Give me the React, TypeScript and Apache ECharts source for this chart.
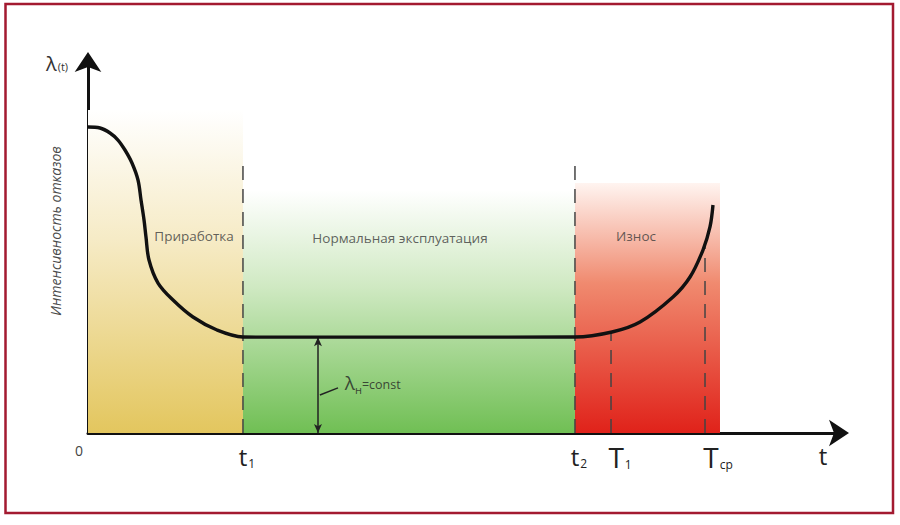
import React, { useEffect, useRef } from "react";
import * as echarts from "echarts";

// Bathtub curve (failure rate vs time), abstract units 0..100 on both axes
const curveT = [0, 1.59, 2.92, 3.98, 4.91, 5.84, 6.64, 7.04, 7.44, 7.7, 8.1, 9.3, 11.29, 13.94, 17.13, 20.58, 22.84, 40, 64.67, 69.59, 73.31, 77.69, 79.95, 81.67, 82.6, 83.0];
const curveLambda = [82.04, 81.77, 80.43, 78.55, 75.87, 72.39, 67.83, 62.47, 57.1, 52.55, 46.38, 40.21, 35.66, 31.1, 27.61, 25.74, 25.7, 25.7, 25.74, 27.08, 29.76, 36.46, 41.82, 49.06, 55.23, 61.13];

const zoneNames = ["Приработка", "Нормальная эксплуатация", "Износ"];
const zoneStart = [0, 20.58, 64.67];
const zoneEnd = [20.58, 64.67, 83.93];
const zoneTop = [86.6, 65.1, 67.0];
const zoneLabelT = [14.08, 41.43, 72.78];
const zoneLabelY = [52.8, 52.3, 52.8];

const dashT = [20.58, 64.67, 69.46, 81.94];
const dashTop = [73.2, 73.2, 27.0, 50.5];

const tickValues = [0, 20.58, 64.67, 69.46, 81.94, 97.61];
const tickMain = ["0", "t", "t", "T", "T", "t"];
const tickSub = ["", "1", "2", "1", "ср", ""];
const tickNudge = [-9, 4, 4, 9, 13, 0];

const lambdaConstT = 30.54;
const lambdaConst = 25.7;
const leaderFrom = [30.8, 10.2];
const leaderTo = [33.2, 12.1];
const lambdaLabel = [34.1, 13.4];

const FONT = "'Open Sans', 'Noto Sans', sans-serif";

const zoneColors = [
  ["#ffffff", "#f6ebc6", "#e3c65e"],
  ["#ffffff", "#cfe9c2", "#70bf54"],
  ["#fff4f0", "#f08a6f", "#e0221a"],
];

export default function App() {
  const ref = useRef<HTMLDivElement>(null);
  useEffect(() => {
    if (!ref.current) return;
    const chart = echarts.init(ref.current, null, { renderer: "svg" });

    const rich: any = {
      sub: { fontSize: 12, color: "#222", fontFamily: FONT, padding: [14, 0, 0, 1] },
    };
    tickMain.forEach((m, i) => {
      const s = tickNudge[i];
      rich["m" + i] = {
        fontSize: m === "0" ? 14 : m === "T" ? 28 : 24,
        color: m === "0" ? "#444" : "#222",
        fontFamily: FONT,
        padding: s >= 0 ? [0, 0, 0, 2 * s] : [0, -2 * s, 0, 0],
      };
    });

    const axisLine = {
      show: true,
      onZero: false,
      symbol: ["none", "arrow"],
      symbolSize: [20, 20],
      symbolOffset: [0, 8],
      lineStyle: { color: "#111", width: 3 },
    };

    const option: any = {
      animation: false,
      backgroundColor: "#ffffff",
      grid: { left: 88, top: 60, right: 59, bottom: 92 },
      xAxis: {
        type: "value",
        min: 0,
        max: 100,
        splitLine: { show: false },
        axisTick: { show: false },
        axisLine,
        axisLabel: {
          customValues: tickValues,
          margin: 10,
          formatter: (v: number) => {
            const i = tickValues.findIndex((x) => Math.abs(x - v) < 1e-6);
            if (i < 0) return "";
            return "{m" + i + "|" + tickMain[i] + "}" + (tickSub[i] ? "{sub|" + tickSub[i] + "}" : "");
          },
          rich,
        },
      },
      yAxis: {
        type: "value",
        min: 0,
        max: 100,
        splitLine: { show: false },
        axisTick: { show: false },
        axisLabel: { show: false },
        axisLine,
      },
      graphic: [
        {
          type: "rect",
          shape: { x: 5.5, y: 4, width: 887.5, height: 509 },
          style: { fill: "none", stroke: "#a31a30", lineWidth: 2.5 },
          silent: true,
        },
        {
          type: "text",
          x: 46,
          y: 63,
          style: {
            text: "{a|λ}{b|(t)}",
            verticalAlign: "middle",
            rich: {
              a: { fontSize: 20, fill: "#333", fontFamily: FONT },
              b: { fontSize: 11, fill: "#333", fontFamily: FONT, padding: [7, 0, 0, 1] },
            },
          },
        },
        {
          type: "text",
          x: 55,
          y: 231,
          rotation: Math.PI / 2,
          style: {
            text: "Интенсивность отказов",
            align: "center",
            verticalAlign: "middle",
            font: "italic 14px " + FONT,
            fill: "#4a4a4a",
          },
        },
      ],
      series: [
        {
          type: "line",
          name: "zones",
          data: [],
          silent: true,
          z: 1,
          markArea: {
            silent: true,
            data: zoneStart.map((s, i) => [
              {
                coord: [s, 0],
                itemStyle: {
                  color: new echarts.graphic.LinearGradient(0, 0, 0, 1, [
                    { offset: 0, color: zoneColors[i][0] },
                    { offset: 0.4, color: zoneColors[i][1] },
                    { offset: 1, color: zoneColors[i][2] },
                  ]),
                },
              },
              { coord: [zoneEnd[i], zoneTop[i]] },
            ]),
          },
        },
        ...dashT.map((t, i) => ({
          type: "line",
          data: [
            [t, 0],
            [t, dashTop[i]],
          ],
          symbol: "none",
          silent: true,
          z: 3,
          lineStyle: { color: "#444", width: 1.5, type: [14, 9] },
        })),
        {
          type: "line",
          name: "curve",
          data: curveT.map((t, i) => [t, curveLambda[i]]),
          smooth: 0.35,
          symbol: "none",
          silent: true,
          z: 5,
          lineStyle: { color: "#111", width: 3.4 },
        },
        {
          type: "line",
          data: [],
          silent: true,
          z: 6,
          markLine: {
            silent: true,
            symbol: ["arrow", "arrow"],
            symbolSize: [6, 9],
            label: { show: false },
            lineStyle: { color: "#222", width: 1.5, type: "solid" },
            data: [
              [
                { coord: [lambdaConstT, 0] },
                { coord: [lambdaConstT, lambdaConst] },
              ],
              [
                { coord: leaderFrom, symbol: "none" },
                { coord: leaderTo, symbol: "none" },
              ],
            ],
          },
        },
        {
          type: "scatter",
          symbolSize: 0,
          silent: true,
          z: 7,
          data: zoneNames.map((n, i) => ({ value: [zoneLabelT[i], zoneLabelY[i]], name: n })),
          label: {
            show: true,
            position: "inside",
            formatter: (p: any) => p.name,
            fontSize: 13.5,
            color: "#3a3a3a",
            fontFamily: FONT,
          },
        },
        {
          type: "scatter",
          symbolSize: 0,
          silent: true,
          z: 7,
          data: [{ value: lambdaLabel, name: "λн=const" }],
          label: {
            show: true,
            position: "right",
            distance: 0,
            formatter: "{l|λ}{s|н}{c|=const}",
            rich: {
              l: { fontSize: 19, color: "#222", fontFamily: FONT },
              s: { fontSize: 11, color: "#222", fontFamily: FONT, padding: [12, 0, 0, 0] },
              c: { fontSize: 12.5, color: "#222", fontFamily: FONT, padding: [3, 0, 0, 0] },
            },
          },
        },
      ],
    };
    chart.setOption(option);
    return () => chart.dispose();
  }, []);
  return (
    <div
      ref={ref}
      style={{ position: "fixed", left: 0, top: 0, width: 900, height: 525, background: "#fff" }}
    />
  );
}
